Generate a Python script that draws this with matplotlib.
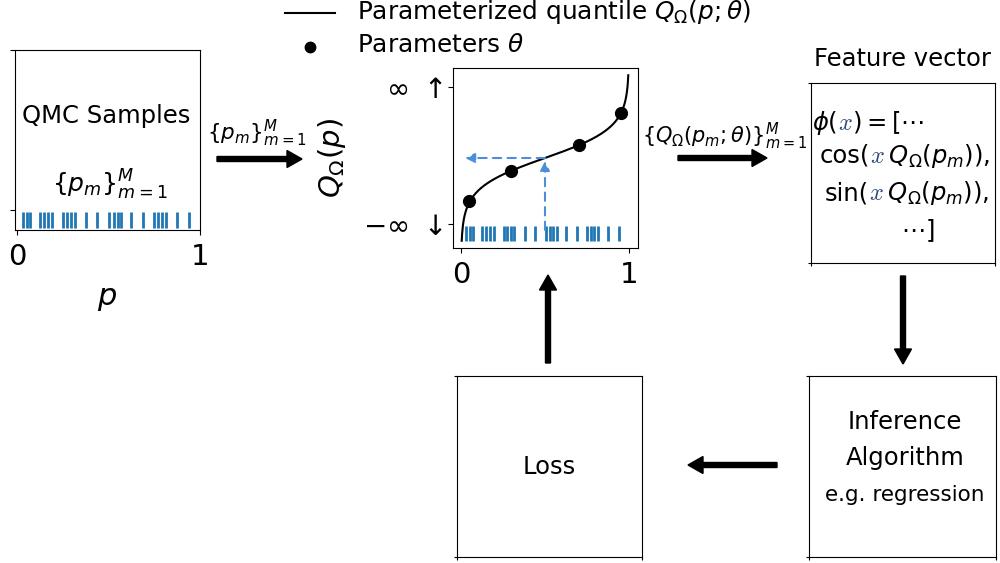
import numpy as np
import matplotlib.pyplot as plt

# low-discrepancy sample locations on [0, 1]
qmc_p = [0.032, 0.053, 0.074, 0.125, 0.149, 0.171, 0.194, 0.253, 0.275, 0.296,
         0.318, 0.379, 0.440, 0.504, 0.528, 0.550, 0.570, 0.626, 0.689, 0.748,
         0.772, 0.794, 0.817, 0.874, 0.940]
# knots of the parameterized quantile function
theta_p = [0.05, 0.3, 0.7, 0.95]
theta_q = [-2.85, -0.85, 0.9, 3.0]
# one sample followed through the quantile function
query_p = 0.5
query_q = 0.0

BLUE = '#1f77b4'
LIGHT = '#4a90d9'
XCOL = '#2c4a7a'
FS = 17.5
TICK_FS = 21

plt.rcParams['mathtext.fontset'] = 'dejavusans'
plt.rcParams['font.size'] = FS

W, H = 1000, 563
fig = plt.figure(figsize=(10, 5.63), dpi=100)


def panel(l, t, r, b):
    return fig.add_axes([l / W, 1 - b / H, (r - l) / W, (b - t) / H])


def blank_box(ax):
    ax.set_xlim(0, 1)
    ax.set_ylim(0, 1)
    ax.set_xticks([0, 1])
    ax.set_yticks([0, 1])
    ax.set_xticklabels([])
    ax.set_yticklabels([])
    ax.tick_params(length=2.5)


# QMC samples
ax1 = panel(15, 50, 200, 230)
ax1.vlines(qmc_p, 0.01, 0.1, color=BLUE, lw=2)
ax1.set_xlim(-0.01, 1.0)
ax1.set_ylim(0, 1)
ax1.set_xticks([0, 1])
ax1.set_yticks([0.11, 1.0])
ax1.set_yticklabels([])
ax1.tick_params(axis='x', labelsize=TICK_FS, pad=5.5)
ax1.set_xlabel('$p$', fontsize=22, labelpad=10)
ax1.text(0.49, 0.633, 'QMC Samples', ha='center', va='center')
ax1.text(0.51, 0.25, r'$\{p_m\}_{m=1}^M$', ha='center', va='center', fontsize=18)

# parameterized quantile
ax2 = panel(453, 68, 638, 248)
pp = np.linspace(0.004, 0.996, 400)
ax2.plot(pp, np.log(pp / (1 - pp)), color='k', lw=1.5)
ax2.plot(theta_p, theta_q, 'o', color='k', ms=8.5)
ax2.vlines(qmc_p, -5.5, -4.5, color=BLUE, lw=2)
dash = dict(arrowstyle='-|>', ls=(0, (4, 3)), color=LIGHT, lw=1.5,
            shrinkA=0, shrinkB=0, mutation_scale=14)
ax2.annotate('', xy=(query_p, query_q - 0.2), xytext=(query_p, -4.8), arrowprops=dash)
ax2.annotate('', xy=(0.024, query_q), xytext=(query_p, query_q), arrowprops=dash)
ax2.set_xlim(-0.048, 1.054)
ax2.set_ylim(-6, 6)
ax2.set_xticks([0, 1])
ax2.set_yticks([-4.4, 4.73])
ax2.set_yticklabels([r'$-\infty\ \downarrow$', r'$\infty\ \uparrow$'])
ax2.tick_params(axis='x', labelsize=TICK_FS, pad=6)
ax2.tick_params(axis='y', labelsize=20)
ax2.set_ylabel(r'$Q_\Omega(p)$', fontsize=21)
ax2.yaxis.set_label_coords(-0.57, 0.5)

# feature vector, inference, loss boxes
ax3 = panel(811, 83, 995, 263)
blank_box(ax3)
ax3.set_title('Feature vector', fontsize=FS, pad=12)
ax4 = panel(809, 376, 996, 557)
blank_box(ax4)
ax5 = panel(457, 376, 642, 557)
blank_box(ax5)

# pixel-unit overlay for arrows and free text, drawn above the boxes
bg = fig.add_axes([0, 0, 1, 1])
bg.set_xlim(0, W)
bg.set_ylim(H, 0)
bg.axis('off')
bg.set_zorder(10)

renderer = fig.canvas.get_renderer()


def arrow(x0, y0, x1, y1):
    bg.arrow(x0, y0, x1 - x0, y1 - y0, width=5, head_width=17, head_length=15,
             length_includes_head=True, fc='k', ec='k')


def row(xc, y, pieces, ha='center'):
    # lay out text pieces side by side on one baseline
    objs = []
    for s, col, mf in pieces:
        t = bg.text(0, y, s, color=col, va='baseline', ha='left',
                    math_fontfamily=mf)
        objs.append(t)
    widths = [t.get_window_extent(renderer).width for t in objs]
    x = xc - sum(widths) / 2 if ha == 'center' else xc
    for t, w in zip(objs, widths):
        t.set_x(x)
        x += w


# legend
bg.plot([285, 335], [13, 13], color='k', lw=1.5)
bg.text(357, 19, r'Parameterized quantile $Q_\Omega(p;\theta)$', va='baseline', fontsize=17.8)
bg.plot([310], [47], 'o', color='k', ms=7.5)
bg.text(357, 52, r'Parameters $\theta$', va='baseline', fontsize=17.8)

# feature vector contents
row(812, 130, [(r'$\phi($', 'k', 'dejavusans'), (r'$x$', XCOL, 'cm'),
               (r'$) = [\cdots$', 'k', 'dejavusans')], ha='left')
row(905, 163, [('cos(', 'k', 'dejavusans'), (r'$x$', XCOL, 'cm'),
               (r'$\,Q_\Omega(p_m)$),', 'k', 'dejavusans')])
row(907, 200, [('sin(', 'k', 'dejavusans'), (r'$x$', XCOL, 'cm'),
               (r'$\,Q_\Omega(p_m)$),', 'k', 'dejavusans')])
row(918, 238, [(r'$\cdots]$', 'k', 'dejavusans')])

bg.text(905, 422, 'Inference', ha='center', va='center')
bg.text(905, 458, 'Algorithm', ha='center', va='center')
bg.text(905, 495, 'e.g. regression', ha='center', va='center', fontsize=15.5)
bg.text(549, 467, 'Loss', ha='center', va='center')

# flow arrows
arrow(217, 159, 302, 159)
bg.text(257, 133, r'$\{p_m\}_{m=1}^M$', ha='center', va='center', fontsize=15.5)
arrow(678, 158, 767, 158)
bg.text(725, 136, r'$\{Q_\Omega(p_m;\theta)\}_{m=1}^M$', ha='center', va='center', fontsize=15)
arrow(903, 276, 903, 364)
arrow(548, 363, 548, 275)
arrow(777, 465, 688, 465)

fig.savefig('out.png', dpi=100)
